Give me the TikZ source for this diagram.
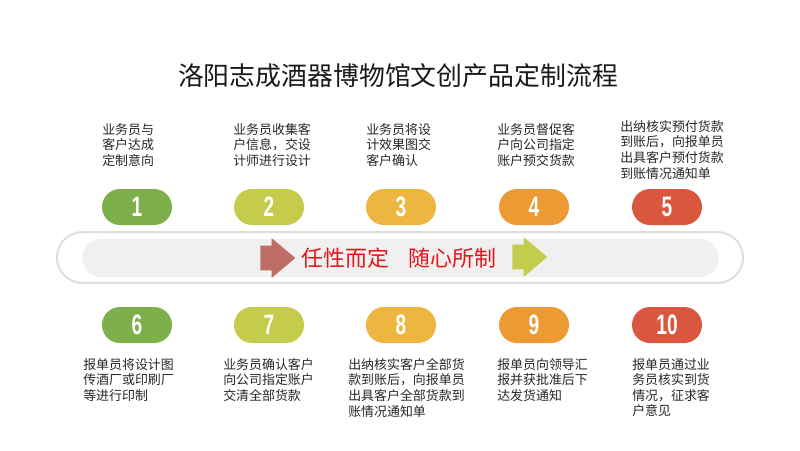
\documentclass[tikz,border=0pt]{standalone}
\usepackage{fontspec}
\newfontfamily\cjk{Noto Sans CJK SC}
\newfontfamily\numfont[FakeStretch=0.68]{Liberation Sans}
\usetikzlibrary{shapes.misc, shapes.arrows}

\definecolor{stepgreen}{HTML}{7DAF4B}
\definecolor{steplime}{HTML}{C5CB4A}
\definecolor{stepyellow}{HTML}{EDB640}
\definecolor{steporange}{HTML}{EC9A33}
\definecolor{stepred}{HTML}{D9573F}
\definecolor{arrowbrown}{HTML}{BF6E66}
\definecolor{arrowlime}{HTML}{C4CC4D}
\definecolor{mottored}{HTML}{E8141B}

\begin{document}
\begin{tikzpicture}[
    x=0.025cm, y=-0.025cm,
    pill/.style={rounded rectangle,minimum width=1.75cm,minimum height=0.9cm,
      inner sep=0pt,text=white,font=\numfont\bfseries\fontsize{20pt}{20pt}\selectfont},
    desc/.style={anchor=north west,align=left,inner sep=0pt,text=black!85,
      font=\cjk\fontsize{9.2pt}{11.1pt}\selectfont},
    band/.style={rounded rectangle,draw=black!13,line width=1.4pt,fill=white,
      minimum width=17.15cm,minimum height=1.27cm,inner sep=0pt},
    lane/.style={rounded rectangle,fill=black!6,minimum width=15.9cm,
      minimum height=0.95cm,inner sep=0pt},
    flow/.style={single arrow,minimum height=0.875cm,inner sep=0pt,
      single arrow head extend=0.19cm,single arrow tip angle=80},
    title/.style={font=\cjk\fontsize{18.4pt}{20pt}\selectfont,text=black!90},
    motto/.style={font=\cjk\fontsize{15.6pt}{18pt}\selectfont,text=mottored}]
  \useasboundingbox (0,0) rectangle (800,450);
  \node[title] (head) at (398,76) {洛阳志成酒器博物馆文创产品定制流程};

  % upper row
  \node[desc] (t1) at (102,123) {业务员与\\客户达成\\定制意向};
  \node[desc] (t2) at (233,123) {业务员收集客\\户信息，交设\\计师进行设计};
  \node[desc] (t3) at (366,123) {业务员将设\\计效果图交\\客户确认};
  \node[desc] (t4) at (497,123) {业务员督促客\\户向公司指定\\账户预交货款};
  \node[desc] (t5) at (620,120) {出纳核实预付货款\\到账后，向报单员\\出具客户预付货款\\到账情况通知单};
  \node[pill,fill=stepgreen] (p1) at (137,207) {1};
  \node[pill,fill=steplime] (p2) at (269,207) {2};
  \node[pill,fill=stepyellow] (p3) at (401,207) {3};
  \node[pill,fill=steporange] (p4) at (534,207) {4};
  \node[pill,fill=stepred] (p5) at (667,207) {5};

  % middle band
  \node[band] (band) at (400,257.5) {};
  \node[lane] (lane) at (400.5,258) {};
  \node[flow,fill=arrowbrown] (go) at (270.5,258) {\rule[-0.3cm]{0pt}{0.6cm}};
  \node[motto] (slogan) at (399,258) {任性而定\hspace{0.9em}随心所制};
  \node[flow,fill=arrowlime] (on) at (522.5,257) {\rule[-0.3cm]{0pt}{0.6cm}};

  % lower row
  \node[pill,fill=stepgreen] (p6) at (137,325) {6};
  \node[pill,fill=steplime] (p7) at (269,325) {7};
  \node[pill,fill=stepyellow] (p8) at (401,325) {8};
  \node[pill,fill=steporange] (p9) at (534,325) {9};
  \node[pill,fill=stepred] (p10) at (667,325) {10};
  \node[desc] (t6) at (83,358) {报单员将设计图\\传酒厂或印刷厂\\等进行印制};
  \node[desc] (t7) at (223,358) {业务员确认客户\\向公司指定账户\\交清全部货款};
  \node[desc] (t8) at (348,358) {出纳核实客户全部货\\款到账后，向报单员\\出具客户全部货款到\\账情况通知单};
  \node[desc] (t9) at (497,358) {报单员向领导汇\\报并获批准后下\\达发货通知};
  \node[desc] (t10) at (632,358) {报单员通过业\\务员核实到货\\情况，征求客\\户意见};
\end{tikzpicture}
\end{document}
